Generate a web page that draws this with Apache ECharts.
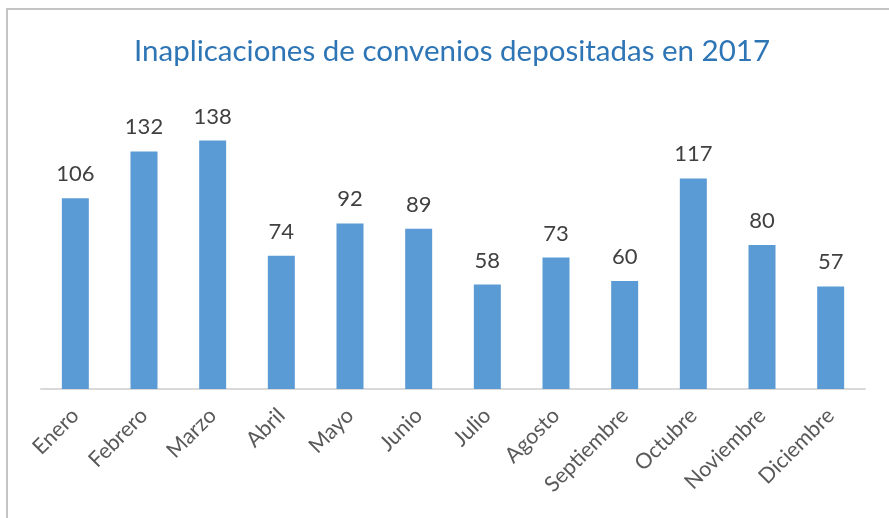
<!DOCTYPE html>
<html style="height: 100%">
<head>
    <meta charset="utf-8">
</head>
<body style="height: 100%; margin: 0; background: #fff">
    <div id="container" style="width: 889px; height: 518px"></div>
    <script src="https://cdn.jsdelivr.net/npm/echarts@6/dist/echarts.min.js"></script>
    <script type="text/javascript">
        var months = ['Enero', 'Febrero', 'Marzo', 'Abril', 'Mayo', 'Junio', 'Julio',
            'Agosto', 'Septiembre', 'Octubre', 'Noviembre', 'Diciembre'];
        var values = [106, 132, 138, 74, 92, 89, 58, 73, 60, 117, 80, 57];

        var dom = document.getElementById("container");
        var myChart = echarts.init(dom);

        var option = {
            animation: false,
            backgroundColor: '#fff',
            title: {
                text: 'Inaplicaciones de convenios depositadas en 2017',
                left: 129,
                top: 31,
                textStyle: {
                    color: '#2E75B6',
                    fontFamily: 'Lato',
                    fontWeight: 'normal',
                    fontSize: 29.5
                }
            },
            graphic: [{
                type: 'rect',
                shape: { x: 7, y: 9, width: 900, height: 520 },
                style: { fill: 'none', stroke: '#c4c4c4', lineWidth: 2 }
            }],
            grid: {
                left: 41,
                right: 24,
                top: 137,
                bottom: 129
            },
            xAxis: {
                type: 'category',
                data: months,
                axisLine: { lineStyle: { color: '#d9d9d9', width: 2 } },
                axisTick: { show: false },
                axisLabel: {
                    rotate: 45,
                    interval: 0,
                    margin: 23,
                    color: '#595959',
                    fontFamily: 'Lato',
                    fontSize: 21.5
                }
            },
            yAxis: {
                type: 'value',
                min: 0,
                max: 140,
                show: false
            },
            series: [{
                type: 'bar',
                data: values,
                barWidth: 27,
                itemStyle: { color: '#5B9BD5' },
                label: {
                    show: true,
                    position: 'top',
                    distance: 13,
                    color: '#404040',
                    fontFamily: 'Lato',
                    fontSize: 22
                }
            }]
        };

        myChart.setOption(option);
    </script>
</body>
</html>
